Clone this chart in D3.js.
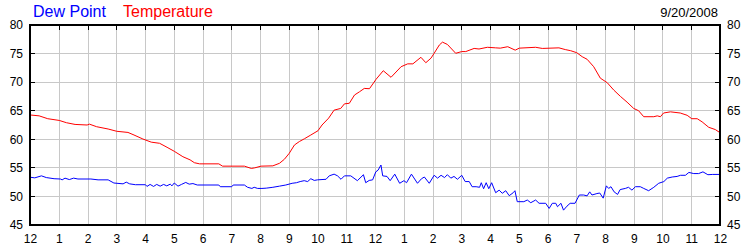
<!DOCTYPE html>
<html>
<head>
<meta charset="utf-8">
<script src="https://cdn.jsdelivr.net/npm/d3@7"></script>
<style>
  html, body { margin: 0; padding: 0; background: #ffffff; }
  svg { display: block; }
  text { font-family: Arial, "Liberation Sans", sans-serif; }
</style>
</head>
<body>
<svg id="chart" width="750" height="250"></svg>
<script>
// ---------- data (hours since midnight, °F) ----------
const hourTicks = d3.range(0, 25);
const hourLabels = ["12","1","2","3","4","5","6","7","8","9","10","11","12","1","2","3","4","5","6","7","8","9","10","11","12"];
const yTicks = [45, 50, 55, 60, 65, 70, 75, 80];
const legendNames = ["Dew Point", "Temperature"];
const dateLabel = "9/20/2008";

const tempHours = [0,0.3,0.6,1.0,1.25,1.55,1.97,2.05,2.3,2.7,3.0,3.39,3.6,3.91,4.2,4.49,4.75,5.0,5.3,5.55,5.7,5.88,6.55,6.68,7.44,7.68,7.8,8.02,8.43,8.66,8.83,9.0,9.18,9.35,9.53,9.75,10.0,10.14,10.37,10.56,10.79,10.92,11.09,11.27,11.44,11.61,11.79,12.02,12.27,12.54,12.89,13.12,13.3,13.58,13.75,13.93,14.04,14.22,14.33,14.5,14.79,15.0,15.14,15.43,15.6,15.89,16.18,16.34,16.6,16.86,17.0,17.57,17.8,18.38,18.6,18.79,19.0,19.19,19.36,19.59,19.82,20.06,20.29,20.52,20.75,20.98,21.15,21.33,21.68,21.8,21.91,22.02,22.26,22.6,22.84,23.0,23.19,23.36,23.59,23.82,24.0];
const tempValues = [64.25,64.1,63.6,63.3,62.9,62.6,62.5,62.65,62.2,61.8,61.4,61.2,60.75,60.05,59.5,59.3,58.6,57.9,56.95,56.4,55.9,55.7,55.7,55.3,55.3,54.9,55.0,55.3,55.35,55.8,56.5,57.55,59.0,59.6,60.1,60.75,61.5,62.5,63.7,65.1,65.4,66.2,66.3,67.75,68.3,68.9,68.85,70.5,72.0,70.85,72.7,73.2,73.2,74.35,73.4,74.2,75.05,76.5,77.0,76.6,75.05,75.35,75.35,75.9,75.8,76.1,76.0,75.95,76.2,75.6,75.95,76.1,75.9,76.0,75.7,75.5,75.15,74.45,74.0,72.7,70.7,69.9,68.6,67.5,66.5,65.4,65.0,63.95,63.95,64.1,63.95,64.6,64.8,64.6,64.2,63.6,63.6,63.05,62.1,61.7,61.1];

const dewHours = [0,0.15,0.38,0.55,0.82,1.04,1.1,1.2,1.35,1.5,1.65,2.1,2.35,2.7,2.9,3.22,3.33,3.45,3.65,4.0,4.05,4.16,4.28,4.39,4.51,4.63,4.74,4.86,4.92,5.0,5.13,5.25,5.4,5.52,5.65,5.8,6.55,6.6,7.0,7.05,7.44,7.55,7.7,7.78,7.9,8.05,8.2,8.43,8.66,8.88,9.1,9.25,9.38,9.52,9.64,9.75,9.87,9.98,10.28,10.39,10.56,10.68,10.8,10.92,11.14,11.37,11.58,11.66,11.78,11.9,12.01,12.09,12.19,12.25,12.4,12.51,12.67,12.84,12.99,13.08,13.25,13.46,13.6,13.7,13.87,14.04,14.16,14.28,14.4,14.5,14.62,14.73,14.85,15.0,15.12,15.26,15.36,15.5,15.62,15.68,15.76,15.85,15.94,16.04,16.18,16.3,16.41,16.53,16.65,16.79,16.85,16.93,17.16,17.28,17.4,17.57,17.69,17.92,18.04,18.15,18.27,18.33,18.45,18.54,18.66,18.77,18.94,19.09,19.24,19.36,19.45,19.53,19.7,19.8,19.92,20.03,20.11,20.19,20.3,20.42,20.51,20.69,20.8,20.92,21.04,21.21,21.33,21.5,21.68,21.85,22.03,22.15,22.32,22.49,22.61,22.78,22.9,23.07,23.24,23.39,23.56,23.73,24.0];
const dewValues = [53.35,53.25,53.6,53.3,53.1,53.05,52.9,53.2,52.95,53.2,53.05,53.05,52.9,52.9,52.35,52.2,52.5,52.2,52.05,52.05,51.75,52.1,51.75,52.1,51.8,52.1,51.85,52.15,51.85,52.35,51.8,52.1,52.45,52.15,52.25,52.0,52.0,51.7,51.7,52.0,52.0,51.6,51.4,51.6,51.4,51.4,51.45,51.6,51.8,52.0,52.3,52.4,52.6,52.76,52.6,53.1,52.8,52.9,53.0,53.6,53.9,53.6,53.0,53.6,53.6,52.76,53.8,52.4,52.8,52.9,54.3,54.6,55.5,53.6,53.5,52.76,53.9,52.3,52.76,52.4,53.9,52.3,53.1,53.4,52.3,53.7,53.2,53.7,53.3,53.8,53.2,53.5,53.0,53.7,52.6,52.6,51.7,51.7,51.6,52.4,51.35,52.4,51.35,52.4,50.65,51.1,50.55,51.0,50.13,50.65,51.0,49.08,49.08,49.37,48.9,49.37,48.8,48.8,47.9,48.8,48.8,48.2,48.8,47.6,48.3,48.8,48.8,50.25,50.25,50.1,50.8,50.25,50.5,50.6,49.7,51.85,51.4,51.7,50.8,50.35,51.2,51.4,51.6,51.1,51.7,51.7,51.4,51.0,51.6,52.3,52.6,53.2,53.4,53.5,53.7,53.7,54.2,54.0,54.0,54.3,53.8,53.85,53.85];

// ---------- layout ----------
const svg = d3.select("#chart");
const L = 30, R = 720, T = 25, B = 225;
const x = d3.scaleLinear().domain([0, 24]).range([L + 0.5, R + 0.5]);
const y = d3.scaleLinear().domain([45, 80]).range([B, T]);
const crisp = v => Math.floor(v) + 0.5;

// grid
const grid = svg.append("g").attr("stroke", "#c8c8c8").attr("stroke-width", 1);
grid.selectAll("line.v").data(hourTicks.slice(1, -1)).join("line")
  .attr("x1", d => crisp(x(d))).attr("x2", d => crisp(x(d)))
  .attr("y1", T).attr("y2", B);
grid.selectAll("line.h").data(yTicks.slice(1, -1)).join("line")
  .attr("y1", d => crisp(y(d))).attr("y2", d => crisp(y(d)))
  .attr("x1", L).attr("x2", R);

// ticks (inside)
const ticks = svg.append("g").attr("stroke", "#000").attr("stroke-width", 1);
ticks.selectAll("line.t").data(hourTicks.slice(1, -1)).join("line")
  .attr("x1", d => crisp(x(d))).attr("x2", d => crisp(x(d)))
  .attr("y1", T).attr("y2", T + 5);
ticks.selectAll("line.yl").data(yTicks.slice(1, -1)).join("line")
  .attr("y1", d => crisp(y(d))).attr("y2", d => crisp(y(d)))
  .attr("x1", L).attr("x2", L + 5);
ticks.selectAll("line.yr").data(yTicks.slice(1, -1)).join("line")
  .attr("y1", d => crisp(y(d))).attr("y2", d => crisp(y(d)))
  .attr("x1", R - 5).attr("x2", R);

// lines
const line = d3.line().x(d => x(d[0])).y(d => y(d[1]));
const dewData = dewHours.map((h, i) => [h, dewValues[i]]);
const tempData = tempHours.map((h, i) => [h, tempValues[i]]);
svg.append("path").datum(dewData).attr("d", line)
  .attr("fill", "none").attr("stroke", "#0000ff").attr("stroke-width", 1);
svg.append("path").datum(tempData).attr("d", line)
  .attr("fill", "none").attr("stroke", "#ff0000").attr("stroke-width", 1);

// frame
svg.append("rect").attr("x", L).attr("y", T).attr("width", R - L).attr("height", B - T)
  .attr("fill", "none").attr("stroke", "#000").attr("stroke-width", 2);

// axis labels
const lab = svg.append("g").attr("font-size", 12).attr("fill", "#000");
lab.selectAll("text.yl").data(yTicks).join("text")
  .attr("x", 23).attr("y", d => y(d) + 4.3).attr("text-anchor", "end").text(d => d);
lab.selectAll("text.yr").data(yTicks).join("text")
  .attr("x", 727).attr("y", d => y(d) + 4.3).attr("text-anchor", "start").text(d => d);
lab.selectAll("text.x").data(hourTicks).join("text")
  .attr("x", d => x(d)).attr("y", 243).attr("text-anchor", "middle").text((d, i) => hourLabels[i]);

// legend + date
svg.append("text").attr("x", 33).attr("y", 17).attr("font-size", 16).attr("fill", "#0000ff").text(legendNames[0]);
svg.append("text").attr("x", 123).attr("y", 17).attr("font-size", 16).attr("fill", "#ff0000").text(legendNames[1]);
svg.append("text").attr("x", 718).attr("y", 17).attr("font-size", 13).attr("text-anchor", "end").attr("fill", "#000").text(dateLabel);
</script>
</body>
</html>
